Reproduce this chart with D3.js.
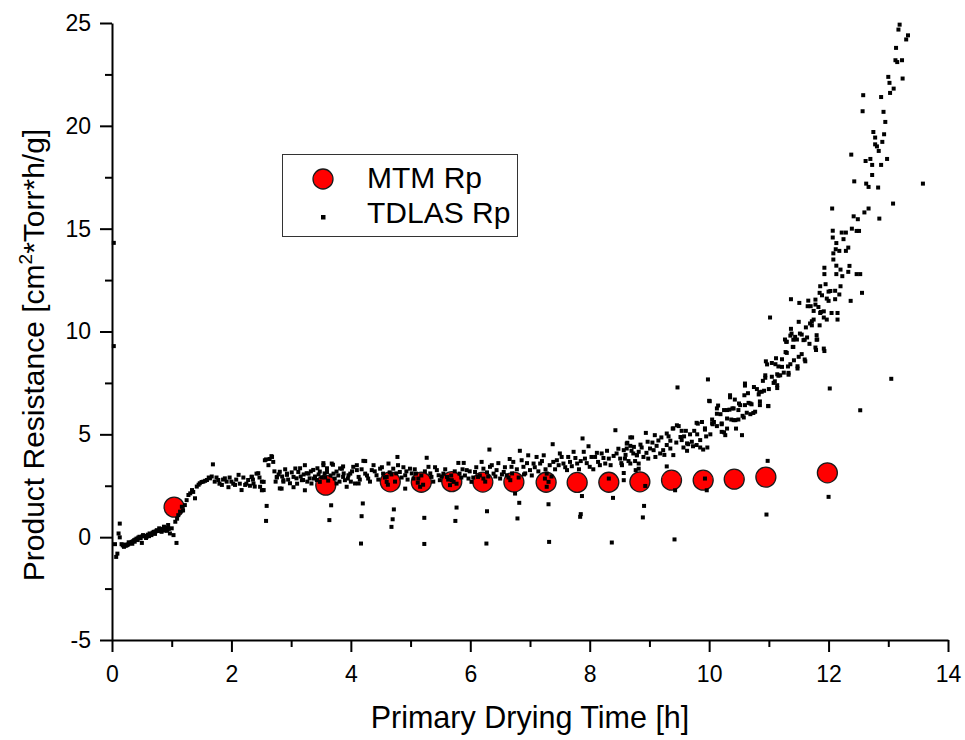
<!DOCTYPE html>
<html>
<head>
<meta charset="utf-8">
<script src="https://cdn.jsdelivr.net/npm/d3@7"></script>
<style>
  body { margin: 0; background: #fff; }
  svg { display: block; font-family: "Liberation Sans", Arial, sans-serif; }
</style>
</head>
<body>
<div id="chart"></div>
<script>
// MTM Rp (big red circles): [time h, Rp]
const mtmRp = [
  [1.04, 1.46], [3.58, 2.53], [4.66, 2.69], [5.18, 2.67], [5.69, 2.70],
  [6.21, 2.68], [6.73, 2.68], [7.27, 2.67], [7.79, 2.66], [8.32, 2.67],
  [8.84, 2.69], [9.37, 2.77], [9.90, 2.77], [10.42, 2.82], [10.95, 2.92],
  [11.98, 3.13]
];

// TDLAS Rp (small squares), split by drying phase
const tdlasStart = [
  [0.03, 14.31], [0.03, 9.29], [0.05, -0.34], [0.07, -0.96], [0.09, -0.80],
  [0.11, 0.18], [0.13, 0.66], [0.13, -0.01], [0.16, -0.34], [0.18, -0.40],
  [0.20, -0.47], [0.22, -0.36], [0.23, -0.42], [0.25, -0.39], [0.27, -0.36],
  [0.28, -0.25], [0.29, -0.31], [0.31, -0.28], [0.33, -0.23], [0.34, -0.32],
  [0.35, -0.20], [0.37, -0.15], [0.38, -0.22], [0.39, -0.12], [0.41, -0.07],
  [0.43, -0.14], [0.44, -0.02], [0.46, 0.02], [0.48, -0.05], [0.50, -0.28],
  [0.51, 0.04], [0.52, 0.10], [0.55, 0.06], [0.57, -0.04], [0.58, 0.02],
  [0.60, 0.12], [0.62, 0.05], [0.63, 0.18], [0.66, 0.10], [0.68, 0.22],
  [0.70, 0.26], [0.72, 0.16], [0.73, 0.28], [0.75, 0.34], [0.77, 0.30],
  [0.79, 0.43], [0.81, 0.36], [0.83, 0.26], [0.85, 0.40], [0.87, 0.51],
  [0.88, 0.32], [0.90, 0.45], [0.92, 0.31], [0.94, 0.59], [0.95, 0.40],
  [0.97, 0.18], [1.00, 0.43], [1.03, 0.10], [1.06, 0.75], [1.08, -0.28],
  [1.09, 0.90], [1.11, 1.07], [1.14, 1.24], [1.17, 1.48], [1.19, 1.30],
  [1.22, 1.56], [1.25, 1.80], [1.28, 2.05], [1.31, 2.13], [1.34, 2.29],
  [1.36, 2.20], [1.39, 1.89], [1.42, 2.46], [1.45, 2.55], [1.47, 2.62],
  [1.50, 2.68], [1.53, 2.70], [1.56, 2.74], [1.59, 2.78], [1.62, 2.90],
  [1.64, 2.86], [1.67, 2.95], [1.69, 3.54]
];

const tdlasPlateau = [
  [1.72, 2.70], [1.75, 2.90], [1.78, 2.78], [1.80, 2.60], [1.84, 2.54],
  [1.86, 2.80], [1.89, 2.86], [1.92, 2.70], [1.95, 2.43], [1.97, 2.90],
  [2.00, 2.70], [2.03, 2.60], [2.06, 2.54], [2.08, 2.80], [2.12, 3.03],
  [2.14, 2.60], [2.17, 2.29], [2.20, 2.90], [2.23, 2.54], [2.25, 2.60],
  [2.28, 2.78], [2.31, 2.50], [2.34, 2.94], [2.34, 2.93], [2.36, 2.80],
  [2.37, 2.61], [2.39, 2.46], [2.42, 3.09], [2.45, 3.11], [2.47, 2.90],
  [2.48, 2.45], [2.51, 2.28], [2.51, 2.70], [2.54, 2.69], [2.54, 2.29],
  [2.56, 3.74], [2.58, 3.78], [2.59, 1.52], [2.58, 0.79], [2.62, 3.50],
  [2.64, 3.80], [2.67, 3.94], [2.68, 3.90], [2.70, 3.66], [2.72, 3.20],
  [2.74, 2.70], [2.76, 2.90], [2.76, 2.93], [2.79, 3.05], [2.81, 3.18],
  [2.81, 2.37], [2.84, 2.36], [2.85, 2.95], [2.87, 2.70], [2.87, 2.77],
  [2.90, 3.30], [2.93, 3.03], [2.93, 3.09], [2.95, 2.80], [2.98, 2.62],
  [3.01, 3.15], [3.04, 2.43], [3.04, 2.93], [3.07, 3.34], [3.09, 2.86],
  [3.10, 2.60], [3.12, 3.17], [3.15, 3.35], [3.16, 2.95], [3.18, 2.77],
  [3.20, 2.78], [3.21, 3.05], [3.23, 3.50], [3.23, 2.28], [3.26, 3.11],
  [3.27, 2.70], [3.29, 3.09], [3.31, 2.86], [3.33, 3.20], [3.34, 2.61],
  [3.37, 3.27], [3.38, 2.85], [3.40, 2.95], [3.43, 2.78], [3.44, 3.35],
  [3.46, 3.05], [3.48, 2.69], [3.48, 3.19], [3.51, 2.90], [3.54, 3.50],
  [3.54, 3.60], [3.56, 3.10], [3.57, 2.90], [3.60, 3.17], [3.60, 3.35],
  [3.62, 2.75], [3.64, 0.83], [3.67, 1.55], [3.66, 3.00], [3.68, 3.58],
  [3.70, 3.52], [3.71, 3.09], [3.73, 2.85], [3.76, 2.61], [3.76, 3.19],
  [3.79, 3.00], [3.81, 2.70], [3.82, 3.34], [3.85, 3.33], [3.87, 2.93],
  [3.87, 3.44], [3.88, 3.10], [3.90, 2.77], [3.93, 2.45], [3.95, 2.85],
  [3.96, 3.01], [3.99, 3.09], [4.00, 2.70], [4.02, 3.20], [4.04, 3.42],
  [4.07, 2.61], [4.10, 3.26], [4.10, 3.50], [4.13, 2.93], [4.13, 2.61],
  [4.15, 2.80], [4.17, -0.31], [4.18, 1.02], [4.18, 3.30], [4.20, 1.64],
  [4.21, 3.71], [4.24, 3.09], [4.24, 3.70], [4.27, 3.00], [4.29, 2.85],
  [4.32, 2.70], [4.35, 3.26], [4.38, 3.50], [4.40, 3.20], [4.43, 3.01],
  [4.46, 2.80], [4.49, 3.33], [4.52, 3.40], [4.54, 3.09], [4.57, 2.90],
  [4.60, 2.93], [4.60, 2.69], [4.62, 2.55], [4.63, 3.58], [4.65, 3.15],
  [4.68, 0.50], [4.68, 3.05], [4.70, 0.87], [4.71, 3.33], [4.72, 1.35],
  [4.74, 2.70], [4.76, 3.10], [4.78, 3.90], [4.79, 3.50], [4.82, 3.17],
  [4.85, 2.90], [4.88, 3.40], [4.91, 2.36], [4.91, 3.01], [4.93, 3.20],
  [4.95, 2.80], [4.99, 3.33], [5.02, 3.10], [5.05, 2.85], [5.07, 3.30],
  [5.09, 3.09], [5.12, 2.65], [5.13, 2.85], [5.16, 2.45], [5.18, 3.00],
  [5.21, 2.55], [5.23, 0.94], [5.23, -0.33], [5.24, 3.20], [5.27, 3.86],
  [5.30, 3.42], [5.33, 3.10], [5.35, 2.93], [5.38, 2.70], [5.41, 3.40],
  [5.44, 3.26], [5.47, 3.01], [5.49, 2.77], [5.52, 2.95], [5.55, 3.09],
  [5.58, 3.30], [5.61, 2.93], [5.63, 2.80], [5.66, 2.53], [5.68, 3.00],
  [5.69, 2.77], [5.72, 2.69], [5.74, 3.20], [5.75, 0.79], [5.77, 1.44],
  [5.77, 2.60], [5.80, 3.61], [5.82, 3.09], [5.85, 2.90], [5.87, 3.30],
  [5.89, 3.61], [5.91, 3.00], [5.94, 3.26], [5.97, 2.85], [5.99, 3.20],
  [6.02, 2.69], [6.05, 2.90], [6.08, 3.17], [6.10, 3.40], [6.13, 2.93],
  [6.16, 3.00], [6.19, 3.66], [6.22, 3.33], [6.22, 2.85], [6.25, 2.70],
  [6.27, -0.31], [6.28, 1.26], [6.28, 3.15], [6.30, 2.95], [6.32, 4.26],
  [6.33, 3.42], [6.36, 3.50], [6.39, 3.09], [6.42, 2.95], [6.44, 3.26],
  [6.47, 3.60], [6.50, 2.85], [6.53, 3.05], [6.56, 3.17], [6.58, 3.40],
  [6.61, 3.01], [6.64, 2.90], [6.66, 3.80], [6.67, 2.77], [6.69, 3.42],
  [6.70, 3.10], [6.72, 3.66], [6.75, 2.12], [6.78, 3.30], [6.79, 0.91],
  [6.81, 2.90], [6.82, 1.67], [6.83, 4.20], [6.86, 3.74], [6.89, 3.42],
  [6.90, 3.05], [6.92, 3.10], [6.95, 3.60], [6.97, 3.98], [7.00, 3.26],
  [7.03, 3.00], [7.06, 3.58], [7.08, 3.40], [7.11, 3.90], [7.14, 3.20],
  [7.17, 3.58], [7.20, 3.70], [7.23, 3.98], [7.25, 2.85], [7.26, 3.30],
  [7.28, 3.09], [7.28, 2.45], [7.31, 2.69], [7.31, 1.60], [7.32, -0.23],
  [7.33, 3.50], [7.36, 2.95], [7.38, 4.52], [7.39, 3.66], [7.42, 3.30],
  [7.45, 3.74], [7.48, 3.50], [7.50, 4.07], [7.53, 3.90], [7.56, 3.58],
  [7.59, 3.40], [7.62, 3.26], [7.64, 3.90], [7.67, 3.66], [7.70, 3.45],
  [7.73, 4.15], [7.76, 3.85], [7.79, 3.58], [7.82, 3.30], [7.84, 0.99],
  [7.85, 1.12], [7.85, 3.70], [7.87, 2.00], [7.88, 4.80], [7.90, 4.15],
  [7.92, 3.82], [7.95, 3.60], [7.98, 4.42], [8.00, 3.42], [8.03, 3.90],
  [8.06, 3.30], [8.09, 3.90], [8.12, 4.10], [8.14, 3.66], [8.17, 3.50],
  [8.20, 4.07], [8.23, 3.85], [8.26, 3.58], [8.29, 4.20], [8.32, 3.82],
  [8.32, 2.85], [8.35, 3.50], [8.37, -0.26], [8.39, 1.91], [8.40, 3.95],
  [8.43, 5.20], [8.45, 4.07], [8.48, 4.30], [8.51, 3.82], [8.53, 3.60]
];

const tdlasRise = [
  [8.54, 3.50], [8.57, 2.77], [8.57, 3.12], [8.57, 4.23], [8.59, 3.82],
  [8.60, 4.00], [8.62, 4.55], [8.62, 4.31], [8.63, 4.59], [8.65, 3.70],
  [8.68, 4.85], [8.68, 3.58], [8.68, 4.44], [8.70, 4.20], [8.71, 4.85],
  [8.73, 4.07], [8.74, 4.39], [8.76, 3.70], [8.77, 3.26], [8.79, 3.98],
  [8.79, 3.99], [8.82, 3.58], [8.82, 4.15], [8.82, 3.33], [8.85, 4.50],
  [8.87, 4.36], [8.89, 0.96], [8.90, 3.90], [8.91, 1.52], [8.93, 2.49],
  [8.94, 5.07], [8.95, 4.10], [8.97, 4.64], [8.98, 3.82], [9.01, 4.31],
  [9.05, 4.60], [9.07, 4.23], [9.09, 4.96], [9.10, 3.90], [9.12, 4.44],
  [9.15, 4.70], [9.18, 4.07], [9.20, 4.85], [9.23, 4.23], [9.25, 4.00],
  [9.29, 5.04], [9.29, 4.48], [9.29, 3.44], [9.32, 4.90], [9.35, 4.69],
  [9.35, 4.31], [9.39, 5.28], [9.40, 3.99], [9.40, 5.29], [9.42, -0.11],
  [9.43, 2.28], [9.45, 4.60], [9.46, 5.44], [9.47, 7.28], [9.49, 5.40],
  [9.52, 4.87], [9.54, 5.17], [9.54, 4.72], [9.57, 4.36], [9.58, 4.90],
  [9.61, 5.17], [9.63, 4.56], [9.63, 4.20], [9.65, 4.52], [9.68, 5.00],
  [9.71, 4.64], [9.73, 4.42], [9.75, 5.17], [9.79, 4.48], [9.79, 5.56],
  [9.80, 5.00], [9.81, 5.52], [9.85, 4.72], [9.85, 4.36], [9.88, 5.60],
  [9.90, 4.26], [9.93, 5.23], [9.93, 5.29], [9.93, 2.85], [9.95, 4.90],
  [9.96, 2.28], [9.97, 4.36], [9.98, 7.67], [10.00, 6.63], [10.01, 6.61],
  [10.02, 5.00], [10.05, 5.72], [10.05, 5.53], [10.06, 5.49], [10.08, 5.60],
  [10.13, 5.40], [10.13, 6.26], [10.13, 6.00], [10.15, 6.40], [10.19, 5.98],
  [10.21, 5.49], [10.21, 5.12], [10.21, 5.53], [10.25, 6.18], [10.25, 5.10],
  [10.27, 4.96], [10.30, 5.28], [10.30, 6.18], [10.30, 5.77], [10.34, 6.20],
  [10.35, 6.80], [10.35, 6.90], [10.37, 5.72], [10.39, 6.26], [10.41, 5.69],
  [10.41, 6.26], [10.43, 6.69], [10.44, 5.69], [10.45, 5.28], [10.49, 6.18],
  [10.49, 5.72], [10.50, 6.50], [10.52, 6.42], [10.55, 4.96], [10.56, 5.90],
  [10.58, 5.82], [10.59, 6.90], [10.60, 7.47], [10.60, 7.37], [10.60, 6.42],
  [10.63, 6.05], [10.65, 7.00], [10.66, 6.53], [10.69, 6.50], [10.69, 5.98],
  [10.71, 6.46], [10.74, 6.04], [10.75, 7.30], [10.77, 6.10], [10.80, 7.20],
  [10.83, 6.94], [10.84, 7.05], [10.85, 6.42], [10.85, 6.60], [10.88, 7.07],
  [10.90, 7.60], [10.92, 7.12], [10.94, 7.87], [10.94, 7.75], [10.95, 8.55],
  [10.96, 1.10], [10.97, 8.40], [10.98, 3.71], [10.99, 6.37], [10.99, 6.38],
  [11.00, 7.20], [11.02, 10.68], [11.05, 8.47], [11.05, 7.80], [11.08, 7.50],
  [11.10, 7.58], [11.11, 8.41], [11.12, 8.70], [11.14, 7.92], [11.14, 7.39],
  [11.14, 7.25], [11.16, 7.85], [11.16, 8.30], [11.19, 7.87], [11.22, 8.28],
  [11.22, 8.65], [11.25, 8.00], [11.28, 9.00], [11.29, 9.50], [11.30, 8.96],
  [11.32, 8.30], [11.33, 7.99], [11.33, 7.90], [11.36, 8.41], [11.36, 9.80],
  [11.37, 10.13], [11.41, 9.25], [11.41, 9.60], [11.42, 8.60], [11.48, 8.31],
  [11.48, 8.20], [11.50, 8.77], [11.52, 9.90], [11.55, 8.90], [11.60, 8.64],
  [11.60, 9.60], [11.61, 8.55]
];

const tdlasSteep = [
  [11.27, 9.61], [11.30, 9.50], [11.37, 11.57], [11.38, 9.90], [11.40, 9.25],
  [11.44, 9.74], [11.47, 9.61], [11.50, 10.47], [11.51, 11.39], [11.55, 9.85],
  [11.58, 9.58], [11.62, 10.20], [11.64, 9.71], [11.65, 11.23], [11.66, 11.50],
  [11.68, 9.40], [11.69, 10.39], [11.70, 11.23], [11.72, 10.30], [11.72, 10.50],
  [11.75, 10.58], [11.75, 11.00], [11.78, 11.31], [11.78, 11.55], [11.78, 9.22],
  [11.79, 9.10], [11.80, 9.82], [11.80, 9.60], [11.81, 9.61], [11.83, 11.19],
  [11.85, 11.88], [11.85, 10.30], [11.86, 12.20], [11.86, 10.90], [11.87, 10.95],
  [11.89, 11.76], [11.92, 10.68], [11.92, 10.98], [11.92, 9.17], [11.93, 12.79],
  [11.93, 9.05], [11.93, 13.10], [11.95, 12.30], [11.97, 11.60], [11.97, 10.58],
  [12.00, 11.49], [12.00, 11.94], [12.00, 1.96], [12.02, 7.23], [12.03, 11.97],
  [12.05, 10.90], [12.06, 15.98], [12.07, 14.57], [12.07, 14.90], [12.08, 13.50],
  [12.08, 13.80], [12.11, 11.57], [12.11, 11.98], [12.12, 14.00], [12.13, 12.79],
  [12.13, 13.20], [12.13, 14.30], [12.15, 10.58], [12.15, 10.90], [12.18, 13.92],
  [12.18, 11.80], [12.20, 13.01], [12.20, 12.20], [12.22, 14.81], [12.23, 12.69],
  [12.25, 14.49], [12.29, 14.81], [12.29, 13.92], [12.33, 14.08], [12.33, 12.90],
  [12.35, 13.19], [12.37, 11.49], [12.38, 18.60], [12.39, 15.00], [12.42, 15.60],
  [12.43, 17.30], [12.47, 14.89], [12.47, 12.79], [12.49, 15.46], [12.51, 14.89],
  [12.53, 12.79], [12.53, 6.17], [12.56, 11.88], [12.57, 20.71], [12.58, 21.49],
  [12.60, 15.79], [12.62, 18.29], [12.63, 17.19], [12.67, 17.03], [12.67, 15.98],
  [12.70, 18.39], [12.73, 18.10], [12.73, 17.61], [12.75, 19.70], [12.78, 19.43],
  [12.78, 19.10], [12.81, 19.00], [12.83, 17.00], [12.84, 18.78], [12.85, 15.49],
  [12.88, 21.40], [12.88, 18.10], [12.90, 19.22], [12.92, 20.68], [12.93, 19.59],
  [12.95, 20.19], [12.98, 18.39], [13.00, 22.38], [13.02, 22.09], [13.03, 21.60],
  [13.05, 7.70], [13.08, 16.22], [13.09, 21.81], [13.12, 23.19], [13.13, 23.79],
  [13.15, 23.10], [13.17, 24.68], [13.19, 24.92], [13.23, 23.19], [13.24, 22.30],
  [13.30, 24.20], [13.33, 24.40], [13.58, 17.19]
];

const xTicks = [0, 2, 4, 6, 8, 10, 12, 14];
const xMinor = [1, 3, 5, 7, 9, 11, 13];
const yTicks = [-5, 0, 5, 10, 15, 20, 25];
const yMinor = [-2.5, 2.5, 7.5, 12.5, 17.5, 22.5];

const W = 965, H = 740;
const svg = d3.select("#chart").append("svg")
    .attr("width", W)
    .attr("height", H);

const x = d3.scaleLinear().domain([0, 14]).range([112, 948]);
const y = d3.scaleLinear().domain([-5, 25]).range([640, 23]);

// MTM circles under the squares
svg.append("g")
    .selectAll("circle")
    .data(mtmRp)
    .join("circle")
    .attr("cx", d => x(d[0]))
    .attr("cy", d => y(d[1]))
    .attr("r", 10)
    .attr("fill", "#ff0000")
    .attr("stroke", "#1a1a1a")
    .attr("stroke-width", 1.3);

const tdlas = [].concat(tdlasStart, tdlasPlateau, tdlasRise, tdlasSteep);
const sq = 4;
svg.append("g")
    .selectAll("rect")
    .data(tdlas)
    .join("rect")
    .attr("x", d => x(d[0]) - sq / 2)
    .attr("y", d => y(d[1]) - sq / 2)
    .attr("width", sq)
    .attr("height", sq)
    .attr("fill", "#000");

// axes
function styleAxis(g) {
    g.select(".domain").attr("stroke", "#000").attr("stroke-width", 2);
    g.selectAll(".tick line").attr("stroke", "#000").attr("stroke-width", 2);
    g.selectAll("text").attr("fill", "#000").style("font-size", "23px");
}
const fmt = d => String(d);

const gx = svg.append("g").attr("transform", `translate(0,${y(-5)})`);
gx.call(d3.axisBottom(x).tickValues(xTicks).tickSize(12).tickSizeOuter(0).tickFormat(fmt))
  .call(styleAxis);
gx.selectAll(".tick text").attr("y", 42).attr("dy", null);

svg.append("g").attr("transform", `translate(0,${y(-5)})`)
  .call(d3.axisBottom(x).tickValues(xMinor).tickSize(7).tickSizeOuter(0).tickFormat(""))
  .call(styleAxis)
  .select(".domain").remove();

const gy = svg.append("g").attr("transform", `translate(${x(0)},0)`);
gy.call(d3.axisLeft(y).tickValues(yTicks).tickSize(12).tickSizeOuter(0).tickFormat(fmt))
  .call(styleAxis);
gy.selectAll(".tick text").attr("x", -21);

svg.append("g").attr("transform", `translate(${x(0)},0)`)
  .call(d3.axisLeft(y).tickValues(yMinor).tickSize(7).tickSizeOuter(0).tickFormat(""))
  .call(styleAxis)
  .select(".domain").remove();

// axis titles
svg.append("text")
    .attr("x", 530)
    .attr("y", 728)
    .attr("text-anchor", "middle")
    .style("font-size", "30.5px")
    .text("Primary Drying Time [h]");

const yt = svg.append("text")
    .attr("transform", "translate(44,355) rotate(-90)")
    .attr("text-anchor", "middle")
    .style("font-size", "30px");
yt.append("tspan").text("Product Resistance [cm");
yt.append("tspan").attr("dy", -12).style("font-size", "19px").text("2");
yt.append("tspan").attr("dy", 12).text("*Torr*h/g]");

// legend
const lg = svg.append("g");
lg.append("rect")
    .attr("x", 282.5).attr("y", 154.5)
    .attr("width", 235).attr("height", 82)
    .attr("fill", "#fff")
    .attr("stroke", "#333")
    .attr("stroke-width", 1);
lg.append("circle")
    .attr("cx", 323).attr("cy", 179).attr("r", 10)
    .attr("fill", "#ff0000").attr("stroke", "#1a1a1a").attr("stroke-width", 1.3);
lg.append("rect")
    .attr("x", 321).attr("y", 215).attr("width", 4.5).attr("height", 4.5)
    .attr("fill", "#000");
lg.append("text").attr("x", 367).attr("y", 188).style("font-size", "30px").text("MTM Rp");
lg.append("text").attr("x", 367).attr("y", 223).style("font-size", "30px").text("TDLAS Rp");
</script>
</body>
</html>
